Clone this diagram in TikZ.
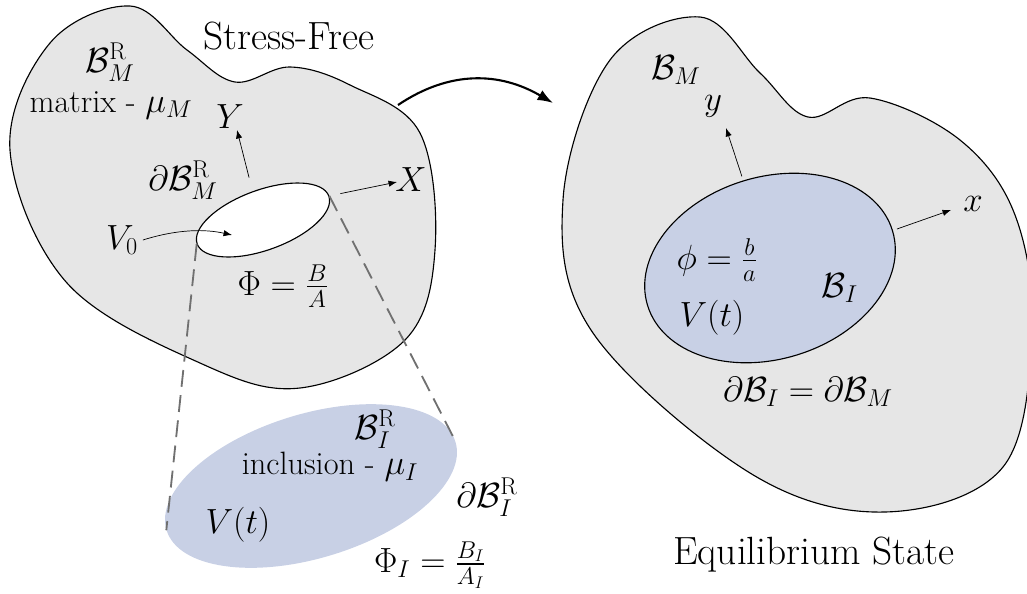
\documentclass[tikz,border=0pt]{standalone}
\usepackage{amsmath,amssymb}
\usepackage{tikz}
\usetikzlibrary{arrows.meta,positioning,calc,shapes.geometric}
\definecolor{matgray}{HTML}{E6E6E6}
\definecolor{inclblue}{HTML}{C8D0E5}
\definecolor{zoomgray}{HTML}{707070}

\begin{document}
\begin{tikzpicture}[x=0.025cm,y=-0.025cm,
    every node/.style={font=\fontsize{23}{27}\selectfont},
    title/.style={font=\fontsize{28}{33}\selectfont},
    body/.style={draw=black,fill=matgray,line width=0.8pt},
    incl/.style={ellipse,fill=inclblue,inner sep=0pt},
    axis/.style={-{Latex[length=6pt,width=4.5pt]},line width=0.5pt},
    zoomline/.style={draw=zoomgray,dash pattern=on 12pt off 6pt,line width=1.3pt}]
  \useasboundingbox (0,0) rectangle (1027,593);
  % stress-free body with the hole
  \draw[body] plot[smooth cycle,tension=0.6] coordinates {(130,6) (187,50) (235,82) (290,67)
    (350,85) (420,133) (435,250) (405,340) (300,388) (200,363) (67,283) (10,150) (50,43)};
  \node[ellipse,draw,fill=white,line width=0.8pt,inner sep=0pt,
        minimum width=3.5cm,minimum height=1.5cm,rotate=20] (hole) at (263,220) {};
  \node[title] (stressfree) at (289,36) {Stress-Free};
  \node (BRM) at (110,62) {$\mathcal{B}_M^{\mathrm{R}}$};
  \node (matrix) at (111,105) {matrix - $\mu_M$};
  \node (dBRM) at (183,180) {$\partial\mathcal{B}_M^{\mathrm{R}}$};
  \node (Ylab) at (230,117) {$Y$};
  \node (Xlab) at (411,180) {$X$};
  \node (V0) at (122,240) {$V_0$};
  \node (PhiR) at (283,286) {$\Phi = \frac{B}{A}$};
  \coordinate (Ytip) at (237,130);
  \coordinate (Xtip) at (397,182);
  \coordinate (V0tip) at (232,235);
  \draw[axis,shorten <=10pt] (hole.north) -- (Ytip);
  \draw[axis,shorten <=8pt] (hole.east) -- (Xtip);
  \draw[axis] (V0.east) .. controls (178,229) and (205,229) .. (V0tip);

  % free inclusion
  \node[incl,minimum width=7.55cm,minimum height=3.6cm,rotate=17] (inclR) at (311,486) {};
  \node (BRI) at (375,429) {$\mathcal{B}_I^{\mathrm{R}}$};
  \node (inclusion) at (330,467) {inclusion - $\mu_I$};
  \node (VtR) at (238,525) {$V(t)$};
  \node (dBRI) at (487,497) {$\partial\mathcal{B}_I^{\mathrm{R}}$};
  \node (PhiI) at (430,565) {$\Phi_I = \frac{B_I}{A_I}$};
  \draw[zoomline] (hole.west) -- (inclR.west);
  \draw[zoomline] (hole.east) -- (inclR.east);

  % equilibrium state
  \draw[body] plot[smooth cycle,tension=0.6] coordinates {(700,17) (760,73) (808,117) (870,98)
    (960,140) (1015,215) (1032,330) (1003,467) (885,512) (750,473) (593,333) (563,200) (610,60)};
  \node[incl,draw,line width=0.8pt,minimum width=6.4cm,minimum height=4.55cm,rotate=17] (inclC) at (770,268) {};
  \node (BM) at (676,70) {$\mathcal{B}_M$};
  \node (ylab) at (713,106) {$y$};
  \node (xlab) at (973,204) {$x$};
  \node (phi) at (717,260) {$\phi = \frac{b}{a}$};
  \node (BI) at (840,288) {$\mathcal{B}_I$};
  \node (Vt) at (712,318) {$V(t)$};
  \node (dBI) at (808,392) {$\partial\mathcal{B}_I = \partial\mathcal{B}_M$};
  \node[title] (equil) at (814,555) {Equilibrium State};
  \coordinate (ytip) at (726,128);
  \coordinate (xtip) at (951,210);
  \draw[axis,shorten <=3pt] (inclC.north) -- (ytip);
  \draw[axis,shorten <=3pt] (inclC.east) -- (xtip);

  % deformation
  \coordinate (start) at (398,105);
  \coordinate (stop) at (553,103);
  \draw[line width=1.5pt,-{Latex[length=11pt,width=8pt]}] (start) .. controls (450,70) and (500,72) .. (stop);
\end{tikzpicture}
\end{document}
